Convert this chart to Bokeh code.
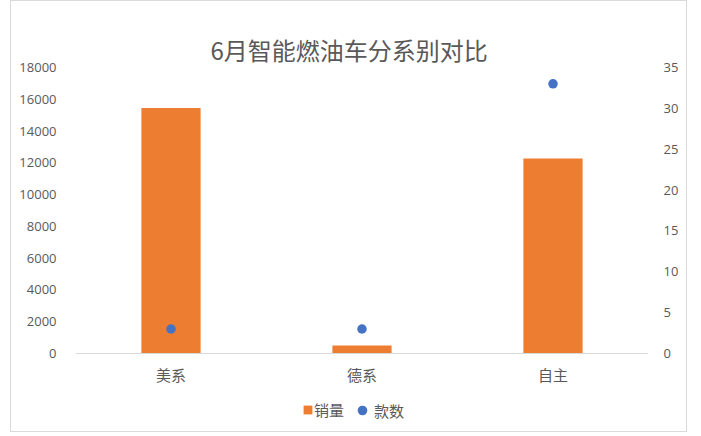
from bokeh.plotting import figure
from bokeh.models import (Range1d, LinearAxis, FixedTicker, Legend, LegendItem,
                          ColumnDataSource, FactorRange)
from bokeh.embed import file_html
from bokeh.resources import INLINE

# ---- data ----
categories = ["美系", "德系", "自主"]
sales = [15450, 500, 12270]
models = [3, 3, 33]
left_ticks = [0, 2000, 4000, 6000, 8000, 10000, 12000, 14000, 16000, 18000]
right_ticks = [0, 5, 10, 15, 20, 25, 30, 35]
title_text = "6月智能燃油车分系别对比"
series_names = ["销量", "款数"]

BAR = "#ED7D31"
DOT = "#4472C4"
TXT = "#595959"
CJK = "Noto Sans CJK SC"

# layout (pixels)
W, H = 677, 432
BL, BR, BT, BB = 64, 40, 66, 6
AXIS_PX = 286                      # pixels from value 0 to top tick
frame_h = H - BT - BB
extra = (frame_h - AXIS_PX) / AXIS_PX  # room below zero for labels / legend
lmax, rmax = left_ticks[-1], right_ticks[-1]

src = ColumnDataSource(dict(cat=categories, sales=sales, models=models))

p = figure(width=W, height=H, x_range=FactorRange(*categories),
           y_range=Range1d(-lmax * extra, lmax), output_backend="svg",
           toolbar_location=None, min_border_left=BL, min_border_right=BR,
           min_border_top=BT, min_border_bottom=BB)
p.extra_y_ranges = {"right": Range1d(-rmax * extra, rmax)}

p.title.text = title_text
p.title.align = "left"
p.title.offset = 135
p.title.standoff = 2
p.title.text_font = CJK
p.title.text_font_size = "24px"
p.title.text_font_style = "normal"
p.title.text_color = TXT

p.outline_line_color = None
p.xgrid.visible = False
p.ygrid.visible = False
p.x_range.range_padding = 0

bars = p.vbar(x="cat", top="sales", width=0.31, source=src, color=BAR, line_color=None)
dots = p.scatter(x="cat", y="models", source=src, size=9.5, color=DOT,
                 line_color=None, y_range_name="right")

# axes
xa = p.xaxis[0]
xa.fixed_location = 0
xa.axis_line_color = "#D9D9D9"
xa.major_tick_line_color = None
xa.minor_tick_line_color = None
xa.major_label_text_font = CJK
xa.major_label_text_font_size = "15px"
xa.major_label_text_color = TXT
xa.major_label_standoff = 4

ya = p.yaxis[0]
ya.ticker = FixedTicker(ticks=left_ticks)
ya.axis_line_color = None
ya.major_tick_line_color = None
ya.minor_tick_line_color = None
ya.major_label_text_font = "Open Sans"
ya.major_label_text_font_size = "13px"
ya.major_label_text_color = TXT
ya.major_label_standoff = 13

ra = LinearAxis(y_range_name="right", ticker=FixedTicker(ticks=right_ticks))
ra.axis_line_color = None
ra.major_tick_line_color = None
ra.minor_tick_line_color = None
ra.major_label_text_font = "Open Sans"
ra.major_label_text_font_size = "13px"
ra.major_label_text_color = TXT
ra.major_label_standoff = 9
p.add_layout(ra, "right")

def mk_legend(item, gw, gh, loc, standoff):
    return Legend(items=[item], location=loc, glyph_width=gw, glyph_height=gh,
                  label_standoff=standoff, padding=0, margin=0, spacing=0,
                  border_line_color=None, background_fill_alpha=0,
                  label_text_font=CJK, label_text_font_size="15px",
                  label_text_color=TXT, label_height=20)

lg1 = mk_legend(LegendItem(label=series_names[0], renderers=[bars]), 11, 11, (227, 7), 1)
lg2 = mk_legend(LegendItem(label=series_names[1], renderers=[dots]), 24, 24, (275, 5), -3)
p.add_layout(lg1, "center")
p.add_layout(lg2, "center")

p.styles = {"border": "1px solid #D9D9D9", "box-sizing": "border-box",
            "margin-left": "10px"}

open("out.html", "w").write(file_html(p, INLINE))
